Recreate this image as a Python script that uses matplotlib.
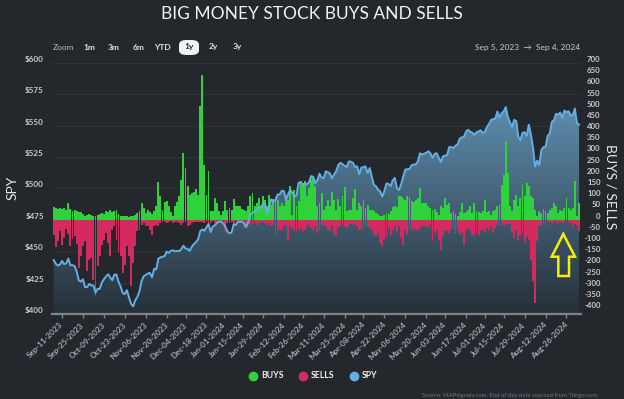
import numpy as np
import pandas as pd
import matplotlib
matplotlib.use("Agg")
import matplotlib.pyplot as plt
from matplotlib.patches import Polygon, FancyBboxPatch
from matplotlib.lines import Line2D
from matplotlib.transforms import ScaledTranslation

plt.rcParams['font.family'] = ['Lato', 'DejaVu Sans']

# trading days Sep 5, 2023 -> Sep 4, 2024
holidays = ["2023-11-23", "2023-12-25", "2024-01-01", "2024-01-15", "2024-02-19",
            "2024-03-29", "2024-05-27", "2024-06-19", "2024-07-04", "2024-09-02"]
days = pd.bdate_range("2023-09-05", "2024-09-04")
days = days[~days.isin(pd.to_datetime(holidays))]

buys = [
    55, 51, 48, 51, 48, 50, 45, 73, 48, 40, 45, 40, 36, 33, 27, 18, 22, 27, 22,
    15, 18, 22, 27, 30, 27, 37, 33, 42, 33, 37, 42, 27, 18, 15, 18, 15, 12, 18, 15, 22, 30,
    37, 72, 52, 30, 45, 33, 27, 37, 60, 167, 107, 42, 77, 82, 63, 33, 15, 63, 77, 107, 179,
    298, 231, 149, 112, 119, 122, 137, 112, 507, 648, 246, 112, 216, 37, 37, 97, 75, 37, 22, 37,
    82, 45, 52, 45, 90, 60, 60, 60, 48, 45, 37, 60, 107, 119, 60, 75, 97, 60, 104, 89, 60,
    112, 67, 92, 101, 89, 60, 75, 63, 104, 89, 152, 22, 134, 60, 82, 171, 164, 171, 104, 142,
    179, 186, 149, 60, 75, 119, 45, 60, 89, 60, 122, 89, 42, 92, 60, 104, 146, 37, 42, 45,
    97, 137, 45, 75, 60, 89, 52, 67, 45, 42, 37, 30, 27, 15, 15, 22, 30, 27, 37, 57, 60, 57,
    104, 104, 97, 89, 104, 100, 82, 77, 89, 97, 142, 75, 72, 75, 60, 52, 45, 48, 33, 22, 60, 52,
    97, 67, 72, 30, 37, 27, 15, 33, 75, 30, 33, 45, 60, 30, 72, 37, 33, 30, 37,
    89, 33, 37, 22, 37, 45, 60, 67, 156, 201, 350, 209, 60, 37, 89, 112, 60, 97, 156, 104, 164, 149,
    104, 97, 45, 15, 37, 30, 48, 37, 30, 45, 52, 75, 60, 30, 42, 37, 52, 97, 52, 45, 52, 171,
    15, 72,
]

sells = [
    71, 124, 94, 49, 113, 83, 42, 64, 119, 86, 74, 109, 216, 164, 119, 97, 231, 179, 171,
    268, 343, 209, 164, 112, 89, 60, 104, 164, 45, 30, 89, 149, 164, 238, 201, 119, 164, 298, 194, 119, 52,
    45, 22, 15, 30, 27, 45, 67, 30, 22, 30, 15, 12, 10, 15, 12, 8, 15, 12, 10, 15, 22,
    15, 12, 27, 22, 15, 12, 12, 12, 12, 12, 15, 12, 22, 15, 8, 15, 15, 10, 8, 5,
    52, 15, 15, 12, 15, 8, 8, 15, 15, 37, 30, 15, 22, 18, 12, 22, 15, 10, 12, 15, 22,
    15, 30, 25, 67, 45, 45, 45, 30, 22, 89, 30, 37, 45, 52, 45, 37, 52, 45, 30, 22,
    37, 45, 30, 60, 45, 22, 30, 30, 45, 52, 30, 60, 75, 37, 30, 22, 30, 37, 22, 18,
    22, 15, 27, 45, 42, 37, 30, 33, 37, 45, 67, 75, 60, 104, 119, 89, 75, 37, 67, 45, 30, 60,
    30, 82, 112, 45, 67, 45, 45, 37, 45, 52, 37, 30, 30, 27, 37, 22, 97, 60, 45, 89, 134, 75,
    45, 52, 60, 45, 37, 60, 52, 67, 60, 112, 52, 37, 45, 67, 75, 60, 67, 52, 45,
    60, 37, 45, 30, 60, 37, 22, 30, 15, 22, 22, 15, 18, 60, 82, 45, 89, 67, 60, 104, 75, 89,
    179, 276, 372, 97, 30, 22, 15, 22, 12, 10, 15, 12, 8, 18, 12, 15, 12, 8, 12, 15, 30, 18,
    22, 52,
]

spy = [
    443.0, 440.0, 438.7, 439.3, 442.3, 439.8, 440.3, 444.2, 438.8, 439.0, 438.1, 434.0, 426.8,
    425.8, 427.6, 421.3, 421.5, 423.9, 422.9,
    422.7, 417.0, 420.1, 419.9, 424.9, 427.7, 429.9, 431.7, 429.1, 426.9, 431.4, 431.4, 425.6,
    421.8, 416.6, 415.9, 419.0, 413.0, 408.0, 406.1, 411.0, 413.6,
    418.1, 426.2, 430.1, 431.1, 432.3, 432.7, 429.2, 436.0, 435.6, 444.1, 445.1, 445.6, 446.2,
    449.7, 448.7, 450.4, 450.7, 449.9, 450.3, 450.0, 451.8,
    454.5, 452.1, 452.0, 450.2, 453.6, 455.6, 457.4, 459.5, 465.9, 467.4, 466.3, 469.0, 471.8,
    465.3, 469.7, 470.7, 472.7, 473.5, 473.7, 472.3,
    469.7, 465.8, 464.3, 464.9, 471.6, 470.9, 473.6, 473.4, 473.7, 471.9, 469.3, 473.5, 479.4,
    480.5, 481.9, 482.4, 485.0, 484.4, 488.3, 487.9, 479.9,
    486.2, 491.4, 489.6, 491.0, 495.1, 495.3, 498.2, 498.0, 491.1, 495.6, 499.0, 496.5, 493.8,
    494.2, 504.5, 504.9, 503.0, 503.9, 503.3, 505.1,
    509.9, 509.3, 504.2, 506.8, 511.8, 508.7, 508.3, 513.8, 513.0, 512.0, 508.1, 511.2, 514.0,
    518.8, 520.5, 519.5, 518.1, 517.1, 521.5, 521.4,
    520.5, 517.1, 517.7, 511.4, 516.7, 517.0, 517.6, 512.4, 516.3, 509.2, 502.8, 501.8, 498.9,
    497.8, 493.5, 498.0, 504.0, 503.7, 501.8, 506.6, 508.4, 500.3,
    498.7, 503.3, 509.6, 515.1, 515.4, 515.5, 518.5, 519.1, 519.2, 521.6, 528.1, 527.0, 527.8,
    528.4, 529.7, 528.1, 524.3, 527.7, 528.1, 524.4, 520.9, 525.7,
    526.1, 526.7, 533.0, 533.0, 532.3, 534.0, 535.3, 539.7, 540.8, 541.1, 545.4, 546.8, 545.3,
    544.5, 542.7, 544.8, 545.5, 546.4, 544.2,
    545.3, 549.0, 551.5, 554.6, 555.3, 555.8, 561.3, 556.5, 560.0, 561.5, 564.9, 556.9, 552.7,
    549.0, 554.7, 553.8, 541.2, 538.4, 544.4, 544.8, 542.0, 550.8,
    543.0, 532.9, 517.4, 522.2, 518.7, 530.7, 533.0, 533.3, 542.0, 543.8, 553.1, 554.3, 559.6,
    558.7, 560.6, 556.2, 562.1, 560.8, 561.6, 558.3, 558.4, 563.7,
    552.1, 551.0,
]

tick_days = pd.date_range("2023-09-11", "2024-08-26", freq="14D")
spy_ticks = list(range(400, 601, 25))
flow_ticks = list(range(-400, 701, 50))

BG = '#24282c'
GREEN = '#30d23c'
RED = '#d42a60'
BLUE = '#62b0e3'
W, H = 624, 399

x = np.arange(len(days))
fig = plt.figure(figsize=(W / 100, H / 100), dpi=100, facecolor=BG)
ax = fig.add_axes([52.2 / W, (H - 314) / H, 528.3 / W, 251 / H])
ax.set_facecolor(BG)
ax_b = ax.twinx()
ax_l = ax.twinx()

# spy area with vertical gradient
top = np.array([105, 160, 198]) / 255
bot = np.array([38, 48, 56]) / 255
t = np.linspace(0, 1, 256)[:, None]
grad = (bot + (top - bot) * t)[:, None, :]
area = ax.fill_between(x, spy, 400, color='none', lw=0)
im = ax.imshow(grad, extent=[-0.7, len(x) - 0.3, 400, 600], aspect='auto',
               origin='lower', zorder=1)
im.set_clip_path(area.get_paths()[0], transform=ax.transData)
ax.set_xlim(-0.7, len(x) - 0.3)
ax.set_ylim(400, 600)
ax.grid(axis='y', color='#2e3337', lw=0.8, zorder=0)
ax.set_axisbelow(True)

# buys / sells columns
ax_b.bar(x, buys, width=0.9, color=GREEN, lw=0)
ax_b.bar(x, -np.array(sells), width=0.9, color=RED, lw=0)
ax_b.set_ylim(-422, 700)

ax_l.plot(x, spy, color=BLUE, lw=1.4, solid_joinstyle='round')
ax_l.set_ylim(400, 600)
ax_l.set_yticks([])

for a in (ax, ax_b, ax_l):
    for s in a.spines.values():
        s.set_visible(False)
ax.spines['bottom'].set_visible(True)
ax.spines['bottom'].set_color('#7c838a')
ax.spines['bottom'].set_linewidth(1.6)

# x ticks on trading-day positions
pos = []
for d in tick_days:
    p = days.searchsorted(d)
    pos.append(p if d in days else p - 0.5)
ax.set_xticks(pos)
ax.set_xticklabels([d.strftime("%b-%d-%Y") for d in tick_days], rotation=45,
                   ha='right', va='center', rotation_mode='anchor')
ax.tick_params(axis='x', length=3, width=1, color='#7c838a', pad=4,
               labelsize=5.8, labelcolor='#a4aab0')

ax.set_yticks(spy_ticks)
ax.set_yticklabels(['$%d' % v for v in spy_ticks])
ax.tick_params(axis='y', length=0, pad=6, labelsize=5.8, labelcolor='#c9ced3')
ax_b.set_yticks(flow_ticks)
ax_b.set_yticklabels([str(v) for v in flow_ticks])
ax_b.tick_params(axis='y', length=0, pad=14.5, labelsize=5.6, labelcolor='#c9ced3')

off = ScaledTranslation(0, 0.04, fig.dpi_scale_trans)
for a in (ax, ax_b):
    for tk in a.yaxis.get_major_ticks():
        tk.label1.set_transform(tk.label1.get_transform() + off)
        tk.label2.set_transform(tk.label2.get_transform() + off)
        tk.label1.set_fontweight('bold')
        tk.label2.set_fontweight('bold')
        tk.label2.set_horizontalalignment('right')
for lbl in ax.get_xticklabels():
    lbl.set_fontweight('bold')


def fx(px):
    return px / W


def fy(py):
    return 1 - py / H


fig.text(0.5, fy(14), 'BIG MONEY STOCK BUYS AND SELLS', ha='center', va='center',
         fontsize=12.5, color='#f0f2f4')
fig.text(fx(13), fy(188), 'SPY', rotation=90, ha='center', va='center',
         fontsize=10, color='#e6e8ea')
fig.text(fx(610), fy(187), 'BUYS / SELLS', rotation=-90, ha='center', va='center',
         fontsize=10, color='#e6e8ea')

# range selector row
fig.text(fx(53), fy(47), 'Zoom', ha='left', va='center', fontsize=6, color='#b8bdc2')
for lab, px in [('1m', 83), ('3m', 108), ('6m', 133), ('YTD', 154), ('2y', 209), ('3y', 233)]:
    fig.text(fx(px), fy(47), lab, ha='left', va='center', fontsize=6,
             color='#e0e3e6', fontweight='bold')
fig.add_artist(FancyBboxPatch((fx(179), fy(55)), fx(20), 15 / H,
                              boxstyle='round,pad=0,rounding_size=0.012',
                              transform=fig.transFigure, fc='#f2f2f2', ec='none'))
fig.text(fx(189), fy(47), '1y', ha='center', va='center', fontsize=6,
         color='#24282c', fontweight='bold')
fig.text(fx(580), fy(47), 'Sep 5, 2023  \u2192  Sep 4, 2024', ha='right', va='center',
         fontsize=6, color='#c8ccd0')

# legend
for lab, col, cx in [('BUYS', GREEN, 253), ('SELLS', RED, 303), ('SPY', BLUE, 354)]:
    fig.add_artist(Line2D([fx(cx)], [fy(376)], marker='o', markersize=6, color=col,
                          transform=fig.transFigure))
    fig.text(fx(cx + 8), fy(376), lab, ha='left', va='center', fontsize=6.2,
             color='#f0f0f0', fontweight='bold')

fig.text(fx(422), fy(395), 'Source: MAPsignals.com. End of day data sourced from Tiingo.com',
         ha='left', va='center', fontsize=4.3, color='#6f757b')

# yellow arrow callout
arrow_px = [(563.3, 234), (575, 256.7), (569, 256.7), (569, 276), (558.3, 276),
            (558.3, 256.7), (551.7, 256.7)]
fig.add_artist(Polygon([(fx(a), fy(b)) for a, b in arrow_px], closed=True, fill=False,
                       ec='#f4f000', lw=1.8, joinstyle='miter', transform=fig.transFigure))

fig.savefig('out.png', dpi=100, facecolor=BG)
